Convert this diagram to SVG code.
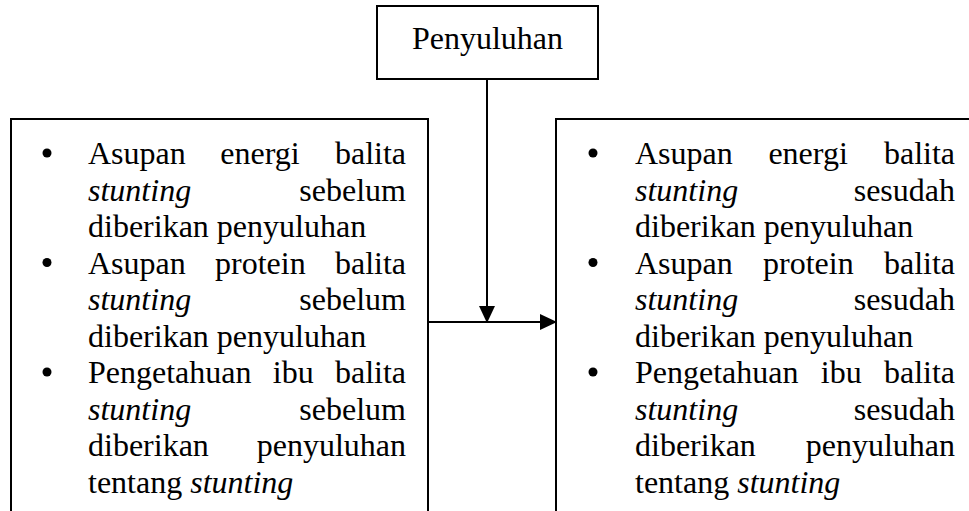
<svg xmlns="http://www.w3.org/2000/svg" width="969" height="511" viewBox="0 0 969 511">
<defs>
<style>
.box{fill:#fff;stroke:#000;stroke-width:2}
.t{font-family:"Liberation Serif","Times New Roman",serif;font-size:32px;fill:#000}
.i{font-style:italic}
.e{text-anchor:end}
.m{text-anchor:middle}
.ln{stroke:#000;stroke-width:2;fill:none}
</style>
<marker id="ah" markerUnits="userSpaceOnUse" markerWidth="18" markerHeight="16" refX="17" refY="8" orient="auto">
<path d="M0,0 L17,8 L0,16 Z" fill="#000"/>
</marker>
</defs>
<rect width="969" height="511" fill="#fff"/>
<g id="node-penyuluhan">
<rect class="box" x="377" y="6" width="221" height="73"/>
<text class="t m" x="487.5" y="49">Penyuluhan</text>
</g>
<g id="node-sebelum">
<rect class="box" x="11" y="119" width="417" height="400"/>
<circle cx="47" cy="153" r="4.5"/>
<text class="t" x="88" y="164">Asupan</text><text class="t" x="220.3" y="164">energi</text><text class="t e" x="406" y="164">balita</text>
<text class="t i" x="88" y="200.5">stunting</text><text class="t e" x="406" y="200.5">sebelum</text>
<text class="t" x="88" y="237">diberikan penyuluhan</text>
<circle cx="47" cy="262.5" r="4.5"/>
<text class="t" x="88" y="273.5">Asupan</text><text class="t" x="215" y="273.5">protein</text><text class="t e" x="406" y="273.5">balita</text>
<text class="t i" x="88" y="310">stunting</text><text class="t e" x="406" y="310">sebelum</text>
<text class="t" x="88" y="346.5">diberikan penyuluhan</text>
<circle cx="47" cy="372" r="4.5"/>
<text class="t" x="88" y="383">Pengetahuan</text><text class="t" x="272.75" y="383">ibu</text><text class="t e" x="406" y="383">balita</text>
<text class="t i" x="88" y="419.5">stunting</text><text class="t e" x="406" y="419.5">sebelum</text>
<text class="t" x="88" y="456">diberikan</text><text class="t e" x="406" y="456">penyuluhan</text>
<text class="t" x="88" y="492.5">tentang <tspan class="i">stunting</tspan></text>
</g>
<g id="node-sesudah">
<rect class="box" x="556" y="119" width="420" height="400"/>
<circle cx="593" cy="153" r="4.5"/>
<text class="t" x="635" y="164">Asupan</text><text class="t" x="768.4" y="164">energi</text><text class="t e" x="955" y="164">balita</text>
<text class="t i" x="635" y="200.5">stunting</text><text class="t e" x="955" y="200.5">sesudah</text>
<text class="t" x="635" y="237">diberikan penyuluhan</text>
<circle cx="593" cy="262.5" r="4.5"/>
<text class="t" x="635" y="273.5">Asupan</text><text class="t" x="763" y="273.5">protein</text><text class="t e" x="955" y="273.5">balita</text>
<text class="t i" x="635" y="310">stunting</text><text class="t e" x="955" y="310">sesudah</text>
<text class="t" x="635" y="346.5">diberikan penyuluhan</text>
<circle cx="593" cy="372" r="4.5"/>
<text class="t" x="635" y="383">Pengetahuan</text><text class="t" x="820.75" y="383">ibu</text><text class="t e" x="955" y="383">balita</text>
<text class="t i" x="635" y="419.5">stunting</text><text class="t e" x="955" y="419.5">sesudah</text>
<text class="t" x="635" y="456">diberikan</text><text class="t e" x="955" y="456">penyuluhan</text>
<text class="t" x="635" y="492.5">tentang <tspan class="i">stunting</tspan></text>
</g>
<g id="connectors">
<line class="ln" x1="487" y1="79" x2="487" y2="323" marker-end="url(#ah)"/>
<line class="ln" x1="428" y1="322" x2="557" y2="322" marker-end="url(#ah)"/>
</g>
</svg>
